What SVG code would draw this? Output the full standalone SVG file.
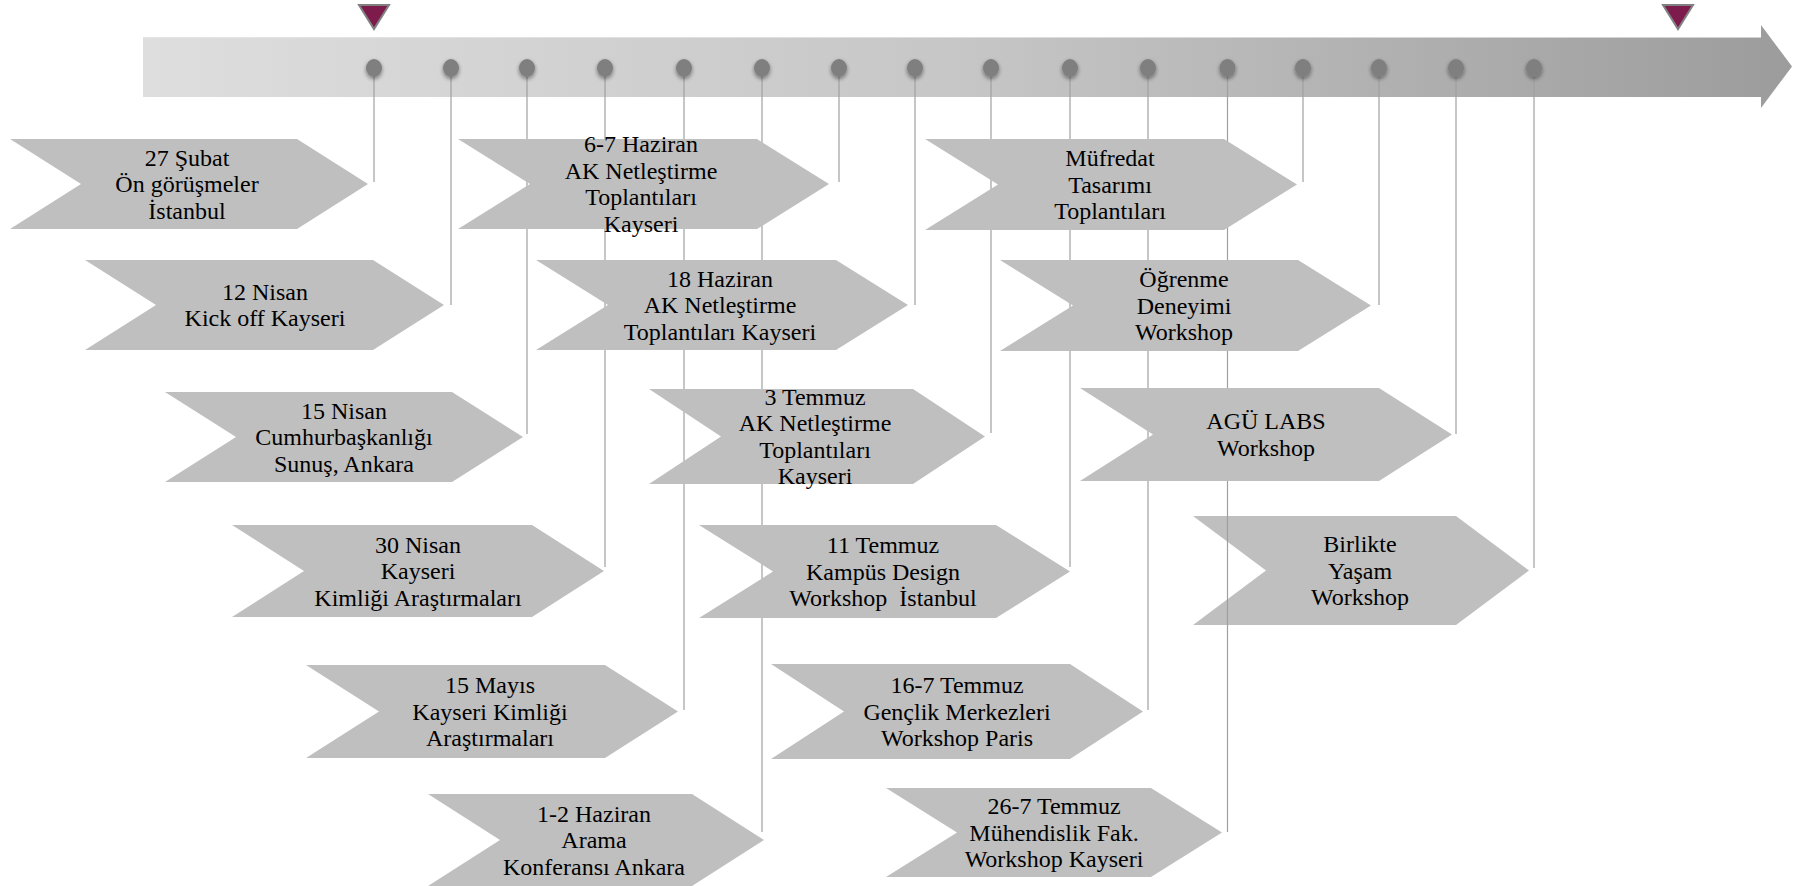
<svg xmlns="http://www.w3.org/2000/svg" width="1793" height="886" viewBox="0 0 1793 886">
<style>
.chev{fill:#bfbfbf}
.lbl{font-family:"Liberation Serif","Times New Roman",serif;font-size:24px;fill:#000;text-anchor:middle;white-space:pre}
.conn{stroke:#a0a0a0;stroke-width:1.2;fill:none}
.dot{fill:#7f7f7f}
.mark{fill:#7c1b4c;stroke:#808080;stroke-width:2}
</style>
<defs>
<linearGradient id="barGrad" x1="143" y1="0" x2="1792" y2="0" gradientUnits="userSpaceOnUse">
<stop offset="0" stop-color="#dedede"/>
<stop offset="0.5" stop-color="#c6c6c6"/>
<stop offset="1" stop-color="#9c9c9c"/>
</linearGradient>
<filter id="sh" x="-1" y="-1" width="3" height="3">
<feGaussianBlur in="SourceAlpha" stdDeviation="2"/>
<feOffset dy="2" result="b"/>
<feComponentTransfer><feFuncA type="linear" slope="0.45"/></feComponentTransfer>
<feMerge><feMergeNode/><feMergeNode in="SourceGraphic"/></feMerge>
</filter>
</defs>

<g id="timeline">
<polygon points="143,37 1761,37 1761,25 1792,66.5 1761,108 1761,97 143,97" fill="url(#barGrad)"/>
<line x1="143" y1="37.5" x2="1761" y2="37.5" stroke="#e8e8e8" stroke-width="1" opacity="0.7"/>
<polygon class="mark" points="359,5 389,5 374,29"/>
<polygon class="mark" points="1663,5 1693,5 1678,29"/>
</g>

<g id="n16">
<polygon class="chev" points="1193,516 1456,516 1529,570.5 1456,625 1193,625 1266,570.5"/>
<text class="lbl" x="1360" y="552"><tspan x="1360">Birlikte</tspan><tspan x="1360" dy="26.5">Yaşam</tspan><tspan x="1360" dy="26.5">Workshop</tspan></text>
</g>

<g id="connectors">
<line class="conn" x1="374" y1="68" x2="374" y2="182"/>
<line class="conn" x1="451" y1="68" x2="451" y2="305"/>
<line class="conn" x1="527" y1="68" x2="527" y2="434"/>
<line class="conn" x1="605" y1="68" x2="605" y2="567"/>
<line class="conn" x1="684" y1="68" x2="684" y2="710"/>
<line class="conn" x1="762" y1="68" x2="762" y2="832"/>
<line class="conn" x1="839" y1="68" x2="839" y2="182"/>
<line class="conn" x1="915" y1="68" x2="915" y2="305"/>
<line class="conn" x1="991" y1="68" x2="991" y2="433"/>
<line class="conn" x1="1070" y1="68" x2="1070" y2="567"/>
<line class="conn" x1="1148" y1="68" x2="1148" y2="710"/>
<line class="conn" x1="1227.5" y1="68" x2="1227.5" y2="832"/>
<line class="conn" x1="1303" y1="68" x2="1303" y2="182"/>
<line class="conn" x1="1379" y1="68" x2="1379" y2="305"/>
<line class="conn" x1="1456" y1="68" x2="1456" y2="434"/>
<line class="conn" x1="1534" y1="68" x2="1534" y2="568"/>
</g>

<g id="dots" filter="url(#sh)">
<ellipse class="dot" cx="374" cy="68" rx="8" ry="9"/>
<ellipse class="dot" cx="451" cy="68" rx="8" ry="9"/>
<ellipse class="dot" cx="527" cy="68" rx="8" ry="9"/>
<ellipse class="dot" cx="605" cy="68" rx="8" ry="9"/>
<ellipse class="dot" cx="684" cy="68" rx="8" ry="9"/>
<ellipse class="dot" cx="762" cy="68" rx="8" ry="9"/>
<ellipse class="dot" cx="839" cy="68" rx="8" ry="9"/>
<ellipse class="dot" cx="915" cy="68" rx="8" ry="9"/>
<ellipse class="dot" cx="991" cy="68" rx="8" ry="9"/>
<ellipse class="dot" cx="1070" cy="68" rx="8" ry="9"/>
<ellipse class="dot" cx="1148" cy="68" rx="8" ry="9"/>
<ellipse class="dot" cx="1227.5" cy="68" rx="8" ry="9"/>
<ellipse class="dot" cx="1303" cy="68" rx="8" ry="9"/>
<ellipse class="dot" cx="1379" cy="68" rx="8" ry="9"/>
<ellipse class="dot" cx="1456" cy="68" rx="8" ry="9"/>
<ellipse class="dot" cx="1534" cy="68" rx="8" ry="9"/>
</g>

<g id="n1">
<polygon class="chev" points="10,139 297,139 368,184 297,229 10,229 81,184"/>
<text class="lbl" x="187" y="165.5"><tspan x="187">27 Şubat</tspan><tspan x="187" dy="26.5">Ön görüşmeler</tspan><tspan x="187" dy="26.5">İstanbul</tspan></text>
</g>
<g id="n2">
<polygon class="chev" points="85,260 373,260 444,305 373,350 85,350 156,305"/>
<text class="lbl" x="265" y="299.75"><tspan x="265">12 Nisan</tspan><tspan x="265" dy="26.5">Kick off Kayseri</tspan></text>
</g>
<g id="n3">
<polygon class="chev" points="165,392 452,392 523,437 452,482 165,482 236,437"/>
<text class="lbl" x="344" y="418.5"><tspan x="344">15 Nisan</tspan><tspan x="344" dy="26.5">Cumhurbaşkanlığı</tspan><tspan x="344" dy="26.5">Sunuş, Ankara</tspan></text>
</g>
<g id="n4">
<polygon class="chev" points="232,525 532,525 604,571 532,617 232,617 304,571"/>
<text class="lbl" x="418" y="552.5"><tspan x="418">30 Nisan</tspan><tspan x="418" dy="26.5">Kayseri</tspan><tspan x="418" dy="26.5">Kimliği Araştırmaları</tspan></text>
</g>
<g id="n5">
<polygon class="chev" points="306,665 605,665 678,711.5 605,758 306,758 379,711.5"/>
<text class="lbl" x="490" y="693"><tspan x="490">15 Mayıs</tspan><tspan x="490" dy="26.5">Kayseri Kimliği</tspan><tspan x="490" dy="26.5">Araştırmaları</tspan></text>
</g>
<g id="n6">
<polygon class="chev" points="428,794 692,794 764,840 692,886 428,886 500,840"/>
<text class="lbl" x="594" y="821.5"><tspan x="594">1-2 Haziran</tspan><tspan x="594" dy="26.5">Arama</tspan><tspan x="594" dy="26.5">Konferansı Ankara</tspan></text>
</g>
<g id="n7">
<polygon class="chev" points="458,139 757,139 829,184 757,229 458,229 530,184"/>
<text class="lbl" x="641" y="152.25"><tspan x="641">6-7 Haziran</tspan><tspan x="641" dy="26.5">AK Netleştirme</tspan><tspan x="641" dy="26.5">Toplantıları</tspan><tspan x="641" dy="26.5">Kayseri</tspan></text>
</g>
<g id="n8">
<polygon class="chev" points="536,260 836,260 908,305 836,350 536,350 608,305"/>
<text class="lbl" x="720" y="286.5"><tspan x="720">18 Haziran</tspan><tspan x="720" dy="26.5">AK Netleştirme</tspan><tspan x="720" dy="26.5">Toplantıları Kayseri</tspan></text>
</g>
<g id="n9">
<polygon class="chev" points="649,389 913,389 985,436.5 913,484 649,484 721,436.5"/>
<text class="lbl" x="815" y="404.75"><tspan x="815">3 Temmuz</tspan><tspan x="815" dy="26.5">AK Netleştirme</tspan><tspan x="815" dy="26.5">Toplantıları</tspan><tspan x="815" dy="26.5">Kayseri</tspan></text>
</g>
<g id="n10">
<polygon class="chev" points="699,525 996,525 1070,571.5 996,618 699,618 773,571.5"/>
<text class="lbl" x="883" y="553"><tspan x="883">11 Temmuz</tspan><tspan x="883" dy="26.5">Kampüs Design</tspan><tspan x="883" dy="26.5">Workshop  İstanbul</tspan></text>
</g>
<g id="n11">
<polygon class="chev" points="771,664 1070,664 1143,711.5 1070,759 771,759 844,711.5"/>
<text class="lbl" x="957" y="693"><tspan x="957">16-7 Temmuz</tspan><tspan x="957" dy="26.5">Gençlik Merkezleri</tspan><tspan x="957" dy="26.5">Workshop Paris</tspan></text>
</g>
<g id="n12">
<polygon class="chev" points="886,788 1151,788 1222,832.5 1151,877 886,877 957,832.5"/>
<text class="lbl" x="1054" y="814"><tspan x="1054">26-7 Temmuz</tspan><tspan x="1054" dy="26.5">Mühendislik Fak.</tspan><tspan x="1054" dy="26.5">Workshop Kayseri</tspan></text>
</g>
<g id="n13">
<polygon class="chev" points="925,139 1224,139 1297,184.5 1224,230 925,230 998,184.5"/>
<text class="lbl" x="1110" y="166"><tspan x="1110">Müfredat</tspan><tspan x="1110" dy="26.5">Tasarımı</tspan><tspan x="1110" dy="26.5">Toplantıları</tspan></text>
</g>
<g id="n14">
<polygon class="chev" points="1000,260 1298,260 1371,305.5 1298,351 1000,351 1073,305.5"/>
<text class="lbl" x="1184" y="287"><tspan x="1184">Öğrenme</tspan><tspan x="1184" dy="26.5">Deneyimi</tspan><tspan x="1184" dy="26.5">Workshop</tspan></text>
</g>
<g id="n15">
<polygon class="chev" points="1080,388 1379,388 1452,434.5 1379,481 1080,481 1153,434.5"/>
<text class="lbl" x="1266" y="429.25"><tspan x="1266">AGÜ LABS</tspan><tspan x="1266" dy="26.5">Workshop</tspan></text>
</g>
</svg>
